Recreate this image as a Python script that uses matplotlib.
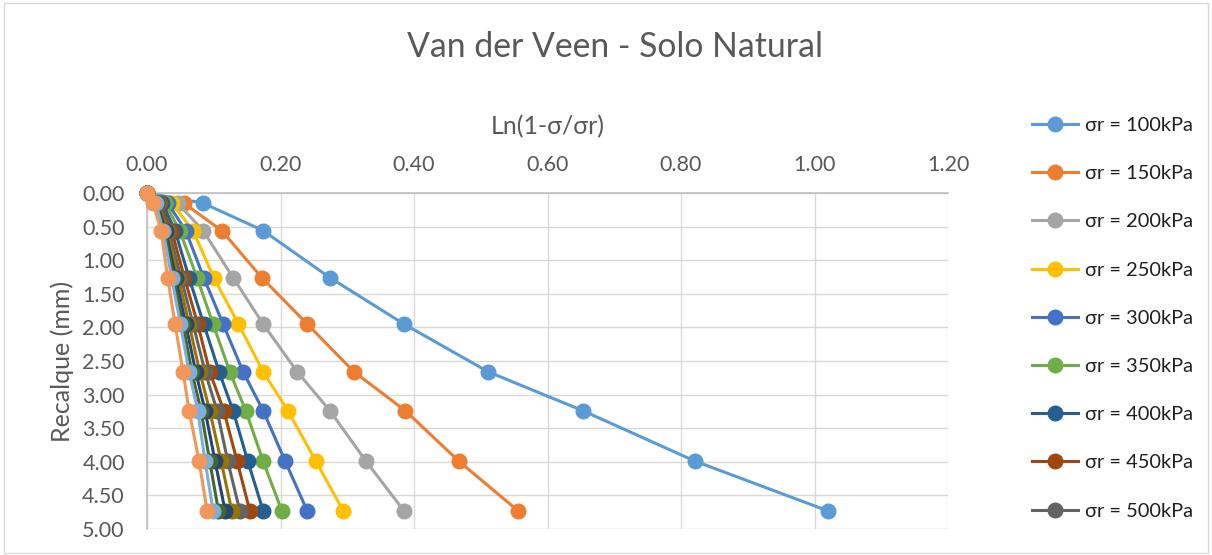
import matplotlib
matplotlib.use("Agg")
import matplotlib.pyplot as plt
from matplotlib.patches import Rectangle

plt.rcParams['font.family'] = ['Lato', 'DejaVu Sans']

recalque = [0.00, 0.15, 0.56, 1.26, 1.95, 2.66, 3.24, 3.99, 4.73]

labels = ["σr = 100kPa", "σr = 150kPa", "σr = 200kPa", "σr = 250kPa", "σr = 300kPa",
          "σr = 350kPa", "σr = 400kPa", "σr = 450kPa", "σr = 500kPa", "σr = 550kPa",
          "σr = 600kPa", "σr = 650kPa", "σr = 700kPa", "σr = 750kPa"]

s100 = [0.0, 0.084, 0.174, 0.274, 0.385, 0.511, 0.653, 0.821, 1.020]
s150 = [0.0, 0.055, 0.112, 0.172, 0.240, 0.310, 0.387, 0.467, 0.556]
s200 = [0.0, 0.046, 0.084, 0.129, 0.174, 0.225, 0.274, 0.328, 0.385]
s250 = [0.0, 0.037, 0.069, 0.100, 0.137, 0.174, 0.211, 0.253, 0.294]
s300 = [0.0, 0.031, 0.058, 0.085, 0.114, 0.144, 0.174, 0.207, 0.240]
s350 = [0.0, 0.027, 0.049, 0.075, 0.099, 0.124, 0.148, 0.174, 0.202]
s400 = [0.0, 0.023, 0.042, 0.063, 0.085, 0.108, 0.129, 0.151, 0.174]
s450 = [0.0, 0.020, 0.037, 0.056, 0.076, 0.094, 0.115, 0.135, 0.154]
s500 = [0.0, 0.018, 0.033, 0.051, 0.069, 0.087, 0.105, 0.121, 0.139]
s550 = [0.0, 0.016, 0.030, 0.047, 0.063, 0.079, 0.094, 0.111, 0.127]
s600 = [0.0, 0.015, 0.028, 0.043, 0.058, 0.073, 0.087, 0.102, 0.117]
s650 = [0.0, 0.014, 0.026, 0.040, 0.054, 0.067, 0.081, 0.094, 0.107]
s700 = [0.0, 0.013, 0.024, 0.037, 0.050, 0.063, 0.076, 0.087, 0.099]
s750 = [0.0, 0.009, 0.021, 0.031, 0.042, 0.054, 0.063, 0.078, 0.090]

series = [s100, s150, s200, s250, s300, s350, s400, s450, s500, s550, s600, s650, s700, s750]
colors = ["#5B9BD5", "#ED7D31", "#A5A5A5", "#FFC000", "#4472C4", "#70AD47", "#255E91",
          "#9E480E", "#636363", "#997300", "#264478", "#43682B", "#7CAFDD", "#F1975A"]

fig = plt.figure(figsize=(12.12, 5.55), dpi=100)
fig.patches.append(Rectangle((0.003, 0.004), 0.994, 0.99, transform=fig.transFigure,
                             fill=False, edgecolor="#D9D9D9", linewidth=1))

ax = fig.add_axes([147/1212, 26/555, 801/1212, 336/555])
handles = []
for vals, lab, col in zip(series, labels, colors):
    h, = ax.plot(vals, recalque, color=col, linewidth=2.2, marker='o', markersize=10.5,
                 label=lab, clip_on=False, zorder=3)
    handles.append(h)

ax.set_xlim(0, 1.2)
ax.set_ylim(5.0, 0.0)
ax.set_xticks([0.0, 0.2, 0.4, 0.6, 0.8, 1.0, 1.2])
ax.set_yticks([i * 0.5 for i in range(11)])
ax.xaxis.set_major_formatter(matplotlib.ticker.FormatStrFormatter('%.2f'))
ax.yaxis.set_major_formatter(matplotlib.ticker.FormatStrFormatter('%.2f'))
ax.xaxis.tick_top()
ax.tick_params(axis='both', length=0, labelsize=15.5, colors="#595959")
ax.tick_params(axis='x', pad=13)
ax.tick_params(axis='y', pad=16)
ax.grid(True, color="#D9D9D9", linewidth=1)
ax.set_axisbelow(True)
for side in ['right', 'bottom']:
    ax.spines[side].set_visible(False)
for side in ['top', 'left']:
    ax.spines[side].set_color("#BFBFBF")
    ax.spines[side].set_linewidth(1.2)

fig.text(548/1212, 1 - 127/555, "Ln(1-σ/σr)", ha='center', va='center',
         fontsize=18, color="#595959")
fig.text(62.5/1212, 1 - 361/555, "Recalque (mm)", ha='center', va='center',
         rotation=90, fontsize=18, color="#595959")

fig.text(615/1212, 1 - 47/555, "Van der Veen - Solo Natural", ha='center', va='center',
         fontsize=24.3, color="#595959")

leg = fig.legend(handles=handles[:9], loc='upper left', bbox_to_anchor=(1022/1212, 1 - 107/555),
                 frameon=False, fontsize=14.4, labelspacing=1.56, handlelength=2.3,
                 handletextpad=0.35, borderpad=0, labelcolor="#1f1f1f")

fig.savefig("out.png", dpi=100)
